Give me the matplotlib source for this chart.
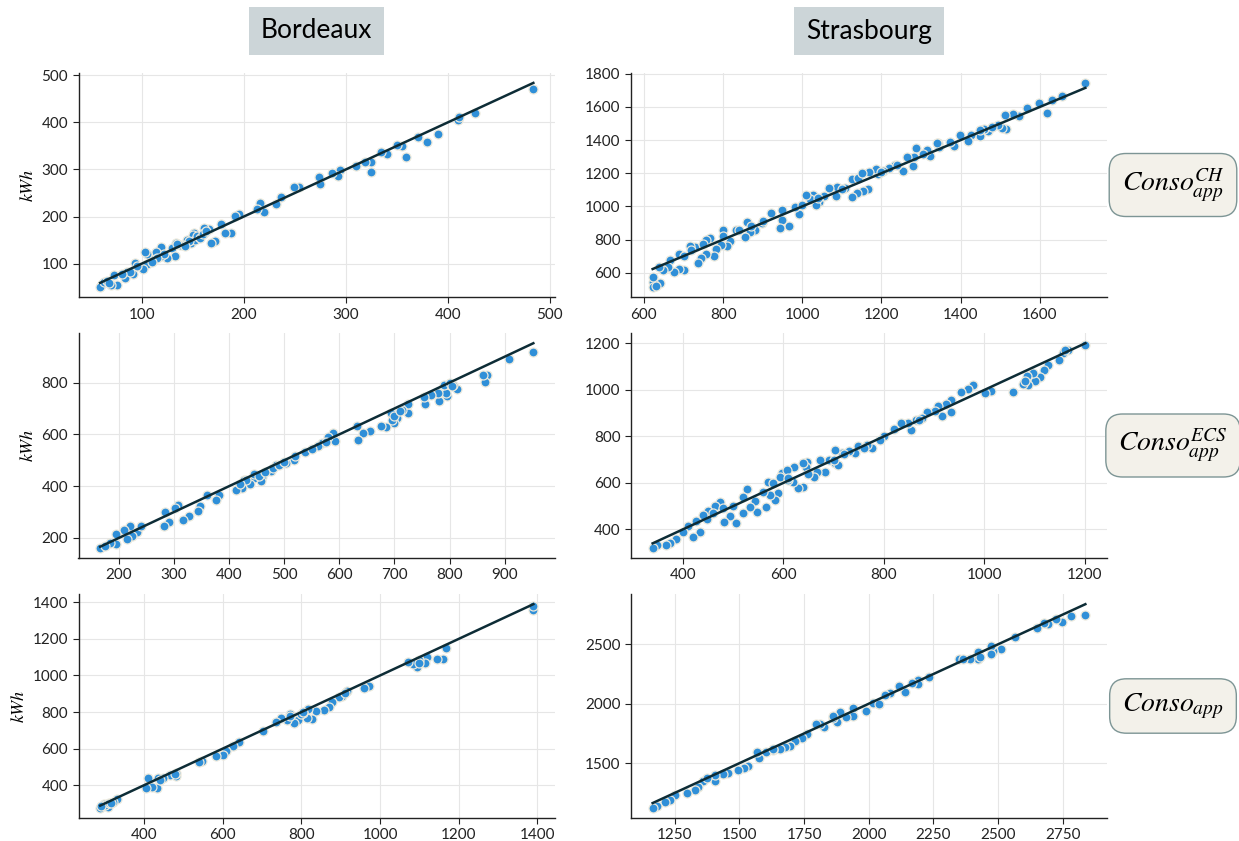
import matplotlib
matplotlib.use("Agg")
import matplotlib.pyplot as plt
from matplotlib.ticker import MultipleLocator

plt.rcParams['font.family'] = ['Lato', 'DejaVu Sans']
plt.rcParams['mathtext.fontset'] = 'stix'

# Bordeaux - chauffage
bdx_ch_reel = [484, 427, 410, 411, 390, 380, 371, 359, 355, 350, 340, 335, 325, 325, 319, 310, 294, 292, 286, 275,
               274, 254, 249, 236, 232, 220, 216, 213, 195, 191, 187, 181, 178, 172, 168, 166, 161, 161, 155, 151,
               149, 148, 144, 140, 133, 129, 132, 125, 119, 119, 114, 110, 105, 103, 105, 101, 93, 91, 85, 83,
               76, 70, 73, 61, 59, 63, 150, 152, 154, 157, 146, 137, 122, 115, 110, 95, 88, 80, 66, 68,
               134, 142, 160, 163]
bdx_ch_pred = [470, 420, 405, 411, 376, 358, 370, 327, 349, 353, 333, 337, 294, 316, 316, 308, 298, 287, 293, 269,
               285, 262, 262, 242, 227, 209, 228, 217, 205, 201, 165, 165, 184, 148, 143, 173, 175, 164, 157, 164,
               153, 144, 150, 139, 144, 134, 116, 111, 136, 116, 124, 107, 120, 124, 100, 88, 101, 77, 82, 69,
               54, 54, 75, 56, 50, 61, 160, 150, 158, 155, 148, 140, 121, 112, 103, 95, 82, 78, 62, 58,
               141, 137, 162, 170]

# Strasbourg - chauffage
sxb_ch_reel = [1715, 1655, 1630, 1619, 1597, 1567, 1547, 1532, 1513, 1515, 1504, 1494, 1468, 1458, 1448, 1427, 1419,
               1399, 1382, 1373, 1345, 1343, 1322, 1314, 1306, 1287, 1279, 1283, 1264, 1254, 1235, 1218, 1204, 1190,
               1185, 1168, 1165, 1154, 1137, 1125, 1125, 1141, 1152, 1108, 1087, 1085, 1067, 1056, 1043, 1035, 1028,
               1020, 1010, 992, 982, 966, 950, 948, 943, 922, 897, 881, 869, 861, 855, 832, 817, 809, 799, 794, 783,
               778, 766, 758, 758, 745, 737, 730, 716, 701, 689, 689, 676, 667, 660, 649, 641, 624, 622, 631, 624, 639,
               700, 720, 750, 800, 840, 870, 900, 1000, 1040, 1100, 1200, 1240, 1340, 1450, 1480]
sxb_ch_pred = [1745, 1663, 1642, 1566, 1626, 1592, 1548, 1560, 1552, 1469, 1471, 1491, 1455, 1465, 1425, 1431, 1396,
               1433, 1364, 1390, 1360, 1384, 1304, 1340, 1316, 1350, 1245, 1300, 1300, 1215, 1251, 1229, 1215, 1195,
               1223, 1207, 1102, 1094, 1078, 1054, 1165, 1173, 1199, 1112, 1114, 1062, 1112, 1062, 1027, 1009, 1070,
               1044, 1068, 957, 997, 880, 981, 917, 872, 961, 900, 860, 848, 907, 814, 860, 792, 759, 856, 765, 745,
               699, 812, 796, 715, 689, 657, 755, 759, 614, 715, 624, 604, 679, 634, 614, 538, 544, 513, 517, 574, 634,
               700, 735, 770, 820, 860, 880, 910, 1010, 1050, 1105, 1210, 1250, 1380, 1460, 1480]

# Bordeaux - eau chaude sanitaire
bdx_ecs_reel = [952, 907, 868, 864, 860, 814, 806, 795, 794, 781, 779, 766, 755, 753, 725, 725, 713, 705, 699, 696,
                693, 684, 676, 656, 643, 634, 632, 593, 588, 580, 568, 561, 537, 518, 503, 485, 476, 460, 457, 445,
                438, 427, 424, 412, 381, 376, 360, 348, 343, 328, 316, 307, 301, 291, 283, 281, 233, 223, 220, 209,
                214, 194, 195, 184, 166, 174, 240, 445, 455, 465, 480, 490, 430, 420, 500, 520, 550, 575, 700, 710,
                790, 800, 805]
bdx_ecs_pred = [917, 892, 831, 803, 828, 777, 792, 749, 760, 728, 760, 751, 719, 745, 683, 717, 694, 662, 645, 655,
                683, 630, 632, 614, 606, 578, 633, 576, 606, 591, 565, 555, 533, 501, 489, 482, 460, 437, 421, 431,
                408, 424, 394, 386, 367, 347, 364, 324, 305, 286, 271, 326, 315, 260, 299, 245, 222, 208, 245, 232,
                194, 178, 217, 181, 162, 168, 245, 445, 440, 455, 470, 480, 425, 410, 495, 515, 545, 570, 670, 690,
                790, 800, 785]

# Strasbourg - eau chaude sanitaire
sxb_ecs_reel = [1201, 1167, 1156, 1148, 1127, 1118, 1110, 1101, 1097, 1084, 1087, 1076, 1057, 1013, 1001, 977, 968,
                953, 934, 934, 924, 908, 915, 902, 886, 875, 864, 855, 849, 834, 801, 792, 776, 766, 749, 743, 731,
                716, 702, 702, 690, 683, 673, 668, 662, 648, 645, 640, 639, 630, 621, 620, 609, 598, 589, 584, 574,
                570, 566, 547, 543, 534, 528, 519, 505, 494, 481, 474, 464, 451, 449, 440, 435, 427, 421, 411, 401,
                387, 375, 367, 348, 340, 594, 607, 708,
                460, 480, 500, 520, 560, 580, 610, 650, 700, 720, 760, 820, 870, 1080, 1160]
sxb_ecs_pred = [1193, 1171, 1157, 1128, 1109, 1085, 1056, 1037, 1071, 1062, 1023, 1027, 991, 997, 987, 1023, 1004,
                990, 958, 905, 941, 930, 889, 908, 904, 879, 872, 826, 858, 858, 803, 783, 750, 764, 757, 728, 738,
                728, 742, 685, 699, 645, 699, 646, 627, 692, 668, 584, 685, 577, 668, 606, 613, 642, 555, 527, 548,
                603, 498, 476, 524, 495, 573, 469, 429, 458, 433, 519, 501, 481, 443, 462, 390, 436, 368, 414, 390,
                357, 342, 332, 332, 321, 627, 656, 678,
                470, 490, 500, 540, 560, 600, 620, 640, 700, 725, 750, 830, 870, 1040, 1170]

# Bordeaux - total
bdx_tot_reel = [1390, 1390, 1169, 1159, 1146, 1120, 1114, 1099, 1095, 1085, 1072, 972, 958, 917, 904, 896, 879, 870,
                858, 836, 828, 815, 817, 803, 792, 781, 770, 764, 748, 735, 703, 642, 627, 609, 601, 582, 548, 540,
                482, 481, 466, 449, 434, 410, 432, 421, 404, 331, 320, 309, 298, 288, 300, 310, 315, 290, 440, 478,
                770, 800, 805, 910, 1100]
bdx_tot_pred = [1358, 1382, 1149, 1089, 1091, 1100, 1067, 1082, 1049, 1064, 1076, 944, 929, 916, 885, 882, 853, 827,
                809, 804, 762, 767, 816, 795, 755, 740, 791, 758, 767, 744, 695, 635, 616, 586, 564, 558, 531, 526,
                449, 467, 453, 440, 440, 440, 382, 389, 382, 325, 309, 282, 295, 276, 290, 300, 305, 285, 430, 460,
                780, 790, 800, 905, 1070]

# Strasbourg - total
sxb_tot_reel = [2838, 2782, 2746, 2723, 2695, 2678, 2650, 2566, 2511, 2482, 2472, 2472, 2424, 2424, 2392, 2350, 2233,
                2192, 2192, 2166, 2140, 2117, 2082, 2063, 2041, 2015, 1988, 1940, 1940, 1912, 1889, 1879, 1863, 1827,
                1811, 1796, 1760, 1740, 1714, 1695, 1676, 1656, 1631, 1602, 1576, 1568, 1531, 1517, 1493, 1456, 1437,
                1405, 1405, 1360, 1340, 1328, 1298, 1250, 1233, 1211, 1182, 1164, 1373, 1630, 1862, 2366, 2430, 2041]
sxb_tot_pred = [2747, 2742, 2691, 2713, 2671, 2683, 2640, 2559, 2461, 2447, 2489, 2416, 2438, 2376, 2376, 2376, 2228,
                2199, 2163, 2177, 2096, 2149, 2093, 2073, 1997, 2008, 1938, 1961, 1896, 1890, 1933, 1848, 1876, 1801,
                1829, 1829, 1742, 1708, 1685, 1646, 1638, 1615, 1610, 1596, 1545, 1590, 1478, 1461, 1441, 1419, 1405,
                1348, 1399, 1351, 1301, 1278, 1250, 1236, 1194, 1174, 1138, 1124, 1371, 1623, 1896, 2376, 2396, 1997]

villes = ['Bordeaux', 'Strasbourg']
usages = [r'$Conso_{app}^{CH}$', r'$Conso_{app}^{ECS}$', r'$Conso_{app}$']

panels = [
    [(bdx_ch_reel, bdx_ch_pred, 100, 100), (sxb_ch_reel, sxb_ch_pred, 200, 200)],
    [(bdx_ecs_reel, bdx_ecs_pred, 100, 200), (sxb_ecs_reel, sxb_ecs_pred, 200, 200)],
    [(bdx_tot_reel, bdx_tot_pred, 200, 200), (sxb_tot_reel, sxb_tot_pred, 250, 500)],
]

W, H = 1239, 841
cols = [(78.5, 555), (631, 1107)]
rows = [(72.7, 297.3), (333, 558), (594, 818)]

fig = plt.figure(figsize=(W / 100, H / 100), dpi=100)

for i, (top, bot) in enumerate(rows):
    for j, (left, right) in enumerate(cols):
        x, y, xstep, ystep = panels[i][j]
        ax = fig.add_axes([left / W, 1 - bot / H, (right - left) / W, (bot - top) / H])
        ax.scatter(x, y, s=42, color='#2f8fd8', edgecolor='#ece9dc', linewidth=0.9, zorder=2)
        lo, hi = min(x), max(x)
        ax.plot([lo, hi], [lo, hi], color='#0d2c36', lw=1.8, zorder=3)
        ax.xaxis.set_major_locator(MultipleLocator(xstep))
        ax.yaxis.set_major_locator(MultipleLocator(ystep))
        ax.grid(True, color='#e6e6e6', lw=0.8)
        ax.set_axisbelow(True)
        for s in ['top', 'right']:
            ax.spines[s].set_visible(False)
        for s in ['left', 'bottom']:
            ax.spines[s].set_color('#222222')
            ax.spines[s].set_linewidth(1.0)
        ax.tick_params(labelsize=11, length=4, width=0.8, colors='#222222')
        if j == 0:
            ax.set_ylabel('$kWh$', fontsize=13)

for j, (left, right) in enumerate(cols):
    fig.text((left + right) / 2 / W, 1 - 31 / H, villes[j], fontsize=19, ha='center', va='center',
             bbox=dict(boxstyle='square,pad=0.45', fc='#ccd5d8', ec='none'))

for i, (top, bot) in enumerate(rows):
    fig.text(1173 / W, 1 - (top + bot) / 2 / H, usages[i], fontsize=20, ha='center', va='center',
             bbox=dict(boxstyle='round,pad=0.45,rounding_size=0.6', fc='#f3f1ea', ec='#7d9595', lw=1))

fig.savefig('out.png', dpi=100)
